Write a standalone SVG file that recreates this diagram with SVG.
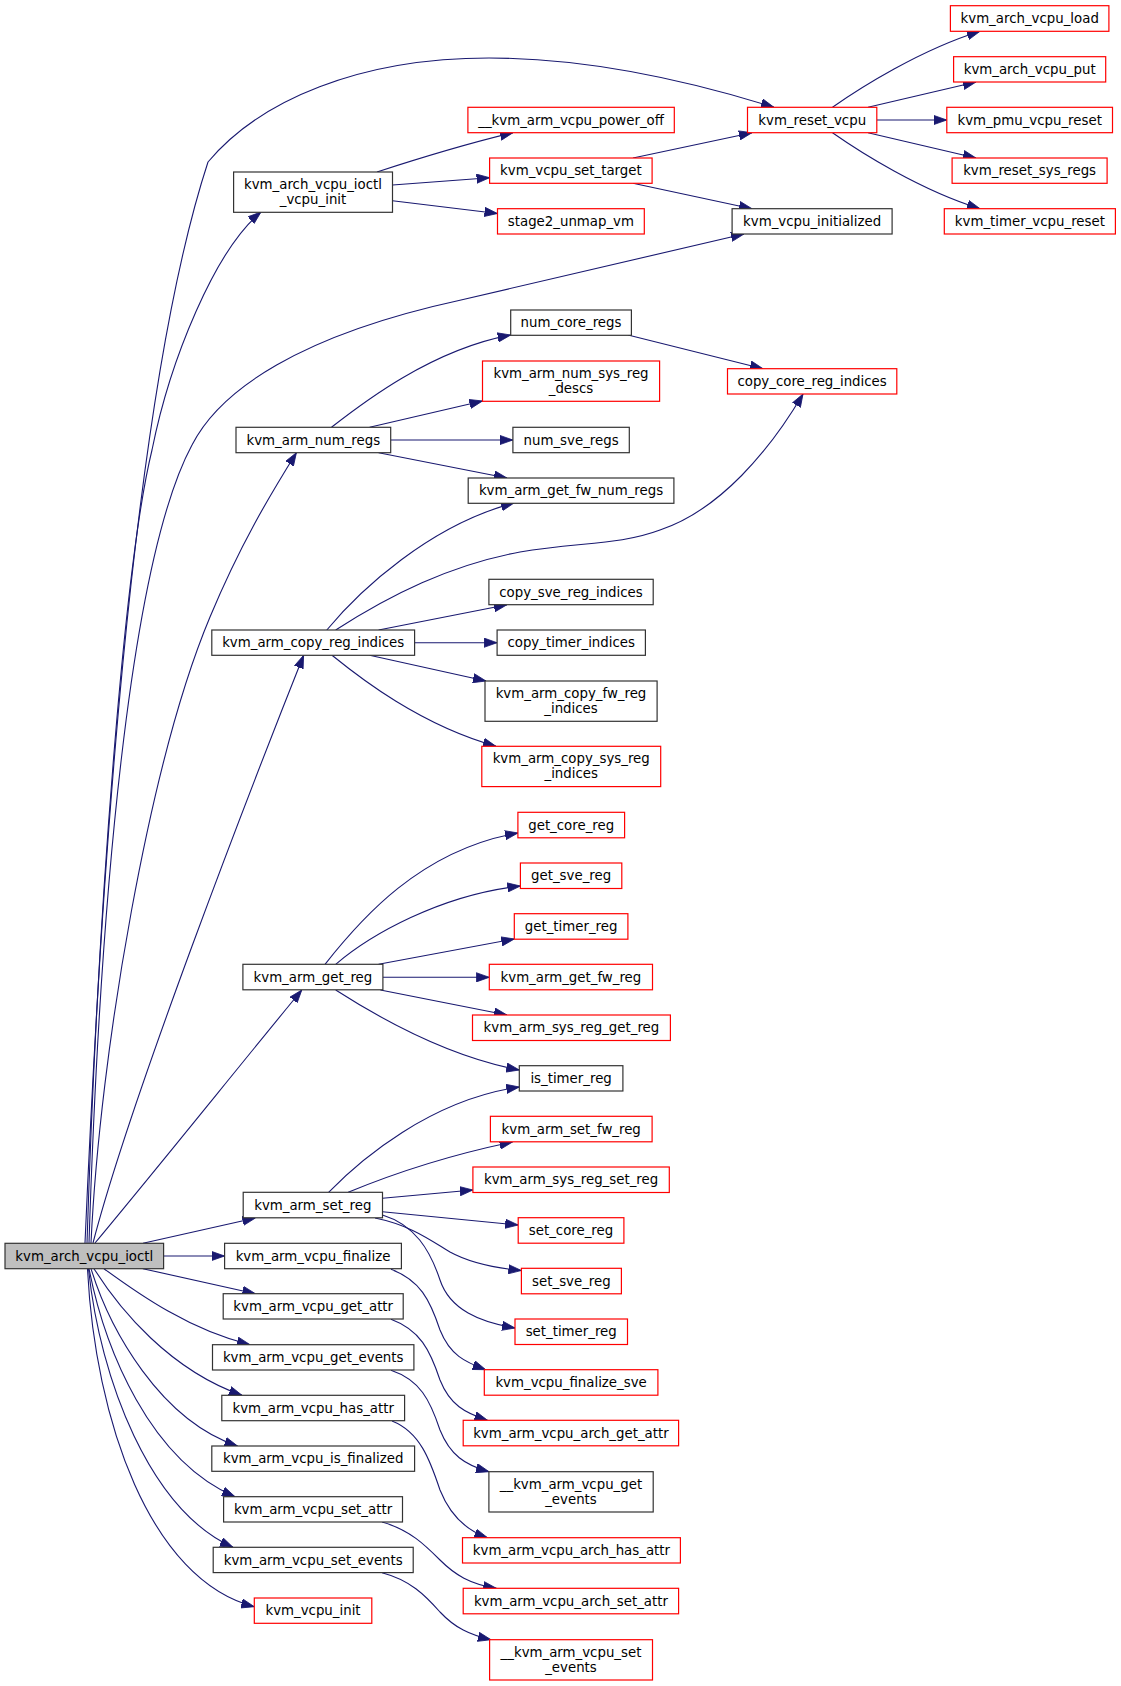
<svg xmlns="http://www.w3.org/2000/svg" width="1121" height="1686" viewBox="0 0 1121 1686">
<style>
.b{fill:#fff;stroke:#333;stroke-width:1.2}
.r{fill:#fff;stroke:#f00;stroke-width:1.2}
.m{fill:#bfbfbf;stroke:#333;stroke-width:1.2}
text{font-family:"DejaVu Sans","Liberation Sans",sans-serif;font-size:13.33px;fill:#000;text-anchor:middle}
.e path{fill:none;stroke:#191970;stroke-width:1.1;marker-end:url(#a)}
</style>
<defs>
<marker id="a" markerUnits="userSpaceOnUse" markerWidth="13" markerHeight="10" viewBox="0 0 13 10" refX="13" refY="5" orient="auto">
<polygon points="0,0.4 13,5 0,9.6" fill="#191970" stroke="#191970" stroke-width="0.8"/>
</marker>
</defs>
<rect width="1121" height="1686" fill="#fff"/>
<g class="e" id="edges">
<path d="M85,1243 C100,900 130,400 208,162 C260,100 360,58 489,58 C580,58 680,78 774,107.3"/>
<path d="M87,1243 C98,900 125,560 152,450 C170,360 215,250 261,212"/>
<path d="M89,1243 C100,900 130,560 192,445 C220,390 300,335 461,300 C520,287 620,262 744,234"/>
<path d="M91,1243 C100,1050 150,760 210,617 C240,545 270,495 296.4,452.7"/>
<path d="M93,1243 C130,1100 250,790 303.6,655.3"/>
<path d="M95,1243 C160,1165 240,1065 301.8,990"/>
<path d="M143,1243.3 L255.4,1218"/>
<path d="M163.6,1256 L224.6,1256"/>
<path d="M142.9,1268.7 L255.4,1293.7"/>
<path d="M104,1268.7 C140,1295 190,1330 250,1344.7"/>
<path d="M94,1268.7 C120,1310 170,1370 242,1395.3"/>
<path d="M91,1268.7 C110,1330 160,1420 237.5,1446"/>
<path d="M89,1268.7 C105,1350 150,1460 235,1496.7"/>
<path d="M88.5,1268.7 C100,1380 150,1510 233,1547.3"/>
<path d="M87.5,1268.7 C95,1420 150,1580 254.3,1606.7"/>
<path d="M377,172 C420,158 470,143 513,132.7"/>
<path d="M392.5,185 L489.6,177.7"/>
<path d="M392.5,200.7 L497.5,213.5"/>
<path d="M633,158 L752,132.7"/>
<path d="M633,183.3 L752,208.7"/>
<path d="M832.5,107.3 C860,88 920,50 980,31.3"/>
<path d="M868,107.3 L976,82"/>
<path d="M876.8,120 L946.8,120"/>
<path d="M868,132.7 L976,158"/>
<path d="M832.5,132.7 C860,152 920,190 980,208.7"/>
<path d="M331.4,427.3 C360,405 430,350 510.7,335"/>
<path d="M369.6,427.3 L482.5,401"/>
<path d="M390.7,440 L512.9,440"/>
<path d="M378.6,452.7 L507,478"/>
<path d="M628,335 L763,368.7"/>
<path d="M335.7,630 C390,595 450,565 520,552 C580,542 620,545 660,530 C720,510 770,450 803,394"/>
<path d="M326.8,630 C360,590 430,525 514,503"/>
<path d="M378.6,630 L507,604.7"/>
<path d="M414.6,642.7 L497.1,642.7"/>
<path d="M369.6,655.3 L486,681"/>
<path d="M332,655.3 C360,678 420,725 496,746.3"/>
<path d="M325,964.3 C360,920 420,850 518,833"/>
<path d="M335.7,964.3 C370,935 440,895 520.4,886"/>
<path d="M378.6,964.3 L514.3,939"/>
<path d="M382.9,977.3 L489.3,977.3"/>
<path d="M380.4,990 L507,1015"/>
<path d="M335.7,990 C370,1012 440,1055 519.3,1070"/>
<path d="M328.6,1192.3 C360,1160 430,1100 519.3,1087"/>
<path d="M348.2,1192.3 C390,1175 450,1155 512.5,1142"/>
<path d="M382.5,1198.3 L472.9,1190"/>
<path d="M382.5,1211.7 L518.2,1225"/>
<path d="M375,1218 C410,1225 430,1240 450,1252 C470,1263 495,1268 521.4,1270.5"/>
<path d="M382.5,1215 C415,1225 430,1250 440,1280 C450,1310 480,1322 515,1328"/>
<path d="M391,1269.3 C420,1280 430,1300 440,1330 C450,1355 465,1362 485.7,1369.7"/>
<path d="M391,1319.3 C420,1330 430,1350 440,1380 C450,1405 465,1413 487.5,1420.3"/>
<path d="M391,1370.3 C420,1380 430,1400 440,1430 C450,1455 465,1465 489,1471.7"/>
<path d="M392,1421 C420,1432 430,1460 440,1490 C450,1515 465,1530 487.5,1537.7"/>
<path d="M382,1522 C410,1530 425,1545 440,1560 C455,1575 470,1584 496.4,1588.3"/>
<path d="M382,1572.7 C410,1580 425,1595 440,1612 C455,1628 470,1635 491,1639.7"/>
</g>
<g id="n_kvm_arch_vcpu_ioctl"><rect class="m" x="5" y="1243.3" width="158.6" height="25.4"/><text x="84.3" y="1260.6">kvm_arch_vcpu_ioctl</text></g>
<g id="n_vcpu_init"><rect class="b" x="233.6" y="172" width="158.9" height="40.3"/><text x="313" y="189">kvm_arch_vcpu_ioctl</text><text x="313" y="204">_vcpu_init</text></g>
<g id="n_power_off"><rect class="r" x="467.9" y="107.3" width="206.4" height="25.4"/><text x="571.1" y="124.6">__kvm_arm_vcpu_power_off</text></g>
<g id="n_set_target"><rect class="r" x="489.6" y="158" width="162.5" height="25.3"/><text x="570.9" y="175.3">kvm_vcpu_set_target</text></g>
<g id="n_stage2"><rect class="r" x="497.5" y="208.7" width="146.8" height="25.3"/><text x="570.9" y="226">stage2_unmap_vm</text></g>
<g id="n_reset_vcpu"><rect class="r" x="747.5" y="107.3" width="129.3" height="25.4"/><text x="812.2" y="124.6">kvm_reset_vcpu</text></g>
<g id="n_initialized"><rect class="b" x="732.1" y="208.7" width="160" height="25.3"/><text x="812.1" y="226">kvm_vcpu_initialized</text></g>
<g id="n_load"><rect class="r" x="950.4" y="5.7" width="158.5" height="25.6"/><text x="1029.7" y="23">kvm_arch_vcpu_load</text></g>
<g id="n_put"><rect class="r" x="953.6" y="56.7" width="152.1" height="25.3"/><text x="1029.7" y="74">kvm_arch_vcpu_put</text></g>
<g id="n_pmu"><rect class="r" x="946.8" y="107.3" width="165.7" height="25.4"/><text x="1029.7" y="124.6">kvm_pmu_vcpu_reset</text></g>
<g id="n_sysregs"><rect class="r" x="952.1" y="158" width="155" height="25.3"/><text x="1029.6" y="175.3">kvm_reset_sys_regs</text></g>
<g id="n_timer_reset"><rect class="r" x="944.3" y="208.7" width="171.1" height="25.3"/><text x="1029.9" y="226">kvm_timer_vcpu_reset</text></g>
<g id="n_num_core"><rect class="b" x="510.7" y="310" width="120.7" height="25.3"/><text x="571" y="327.3">num_core_regs</text></g>
<g id="n_sys_descs"><rect class="r" x="482.5" y="361" width="177.1" height="40.3"/><text x="571" y="378">kvm_arm_num_sys_reg</text><text x="571" y="393">_descs</text></g>
<g id="n_copy_core"><rect class="r" x="727.5" y="368.7" width="169.3" height="25.3"/><text x="812.1" y="386">copy_core_reg_indices</text></g>
<g id="n_num_regs"><rect class="b" x="236" y="427.3" width="154.7" height="25.4"/><text x="313.3" y="444.6">kvm_arm_num_regs</text></g>
<g id="n_num_sve"><rect class="b" x="512.9" y="427.3" width="116.4" height="25.4"/><text x="571.1" y="444.6">num_sve_regs</text></g>
<g id="n_fw_num"><rect class="b" x="468.2" y="478" width="205.7" height="25.3"/><text x="571" y="495.3">kvm_arm_get_fw_num_regs</text></g>
<g id="n_copy_sve"><rect class="b" x="488.9" y="579.3" width="164.3" height="25.4"/><text x="571" y="596.6">copy_sve_reg_indices</text></g>
<g id="n_copy_reg"><rect class="b" x="211.8" y="630" width="202.8" height="25.3"/><text x="313.2" y="647.3">kvm_arm_copy_reg_indices</text></g>
<g id="n_copy_timer"><rect class="b" x="497.1" y="630" width="148.3" height="25.3"/><text x="571.2" y="647.3">copy_timer_indices</text></g>
<g id="n_copy_fw"><rect class="b" x="485" y="681" width="172.1" height="40.3"/><text x="571" y="698">kvm_arm_copy_fw_reg</text><text x="571" y="713">_indices</text></g>
<g id="n_copy_sys"><rect class="r" x="481.8" y="746.3" width="178.9" height="40.3"/><text x="571.2" y="763.3">kvm_arm_copy_sys_reg</text><text x="571.2" y="778.3">_indices</text></g>
<g id="n_get_core"><rect class="r" x="517.9" y="812.3" width="106.7" height="25.5"/><text x="571.2" y="829.6">get_core_reg</text></g>
<g id="n_get_sve"><rect class="r" x="520.4" y="863" width="101.4" height="25.5"/><text x="571.1" y="880.3">get_sve_reg</text></g>
<g id="n_get_timer"><rect class="r" x="514.3" y="913.7" width="113.6" height="25.5"/><text x="571.1" y="931">get_timer_reg</text></g>
<g id="n_get_reg"><rect class="b" x="242.9" y="964.3" width="140" height="25.5"/><text x="312.9" y="981.6">kvm_arm_get_reg</text></g>
<g id="n_get_fw"><rect class="r" x="489.3" y="964.3" width="163.2" height="25.5"/><text x="570.9" y="981.6">kvm_arm_get_fw_reg</text></g>
<g id="n_sys_get"><rect class="r" x="472.5" y="1015" width="197.9" height="25.5"/><text x="571.4" y="1032.3">kvm_arm_sys_reg_get_reg</text></g>
<g id="n_is_timer"><rect class="b" x="519.3" y="1065.7" width="103.6" height="25.3"/><text x="571.1" y="1083">is_timer_reg</text></g>
<g id="n_set_fw"><rect class="r" x="490.4" y="1116.3" width="161.7" height="25.5"/><text x="571.2" y="1133.6">kvm_arm_set_fw_reg</text></g>
<g id="n_sys_set"><rect class="r" x="472.9" y="1167" width="196.4" height="25.5"/><text x="571.1" y="1184.3">kvm_arm_sys_reg_set_reg</text></g>
<g id="n_set_reg"><rect class="b" x="243.2" y="1192.3" width="139.3" height="25.5"/><text x="312.8" y="1209.6">kvm_arm_set_reg</text></g>
<g id="n_set_core"><rect class="r" x="518.2" y="1217.7" width="105.7" height="25.5"/><text x="571" y="1235">set_core_reg</text></g>
<g id="n_finalize"><rect class="b" x="224.6" y="1243.3" width="176.8" height="25.4"/><text x="313" y="1260.6">kvm_arm_vcpu_finalize</text></g>
<g id="n_set_sve"><rect class="r" x="521.4" y="1268.3" width="100" height="25.5"/><text x="571.4" y="1285.6">set_sve_reg</text></g>
<g id="n_get_attr"><rect class="b" x="223.2" y="1293.7" width="180" height="25.3"/><text x="313.2" y="1311">kvm_arm_vcpu_get_attr</text></g>
<g id="n_set_timer"><rect class="r" x="515" y="1319" width="112.5" height="25.5"/><text x="571.2" y="1336.3">set_timer_reg</text></g>
<g id="n_get_events"><rect class="b" x="212.5" y="1344.7" width="201.4" height="25.3"/><text x="313.2" y="1362">kvm_arm_vcpu_get_events</text></g>
<g id="n_finalize_sve"><rect class="r" x="484.3" y="1369.7" width="173.6" height="25.5"/><text x="571.1" y="1387">kvm_vcpu_finalize_sve</text></g>
<g id="n_has_attr"><rect class="b" x="221.8" y="1395.3" width="182.8" height="25.4"/><text x="313.2" y="1412.6">kvm_arm_vcpu_has_attr</text></g>
<g id="n_arch_get"><rect class="r" x="463.2" y="1420.3" width="215.4" height="25.5"/><text x="570.9" y="1437.6">kvm_arm_vcpu_arch_get_attr</text></g>
<g id="n_is_finalized"><rect class="b" x="211.8" y="1446" width="202.8" height="25.3"/><text x="313.2" y="1463.3">kvm_arm_vcpu_is_finalized</text></g>
<g id="n___get_events"><rect class="b" x="488.9" y="1471.7" width="164.3" height="40.3"/><text x="571" y="1488.7">__kvm_arm_vcpu_get</text><text x="571" y="1503.7">_events</text></g>
<g id="n_set_attr"><rect class="b" x="223.6" y="1496.7" width="178.9" height="25.3"/><text x="313" y="1514">kvm_arm_vcpu_set_attr</text></g>
<g id="n_arch_has"><rect class="r" x="462.5" y="1537.7" width="217.9" height="25.3"/><text x="571.4" y="1555">kvm_arm_vcpu_arch_has_attr</text></g>
<g id="n_set_events"><rect class="b" x="213.2" y="1547.3" width="200" height="25.3"/><text x="313.2" y="1564.6">kvm_arm_vcpu_set_events</text></g>
<g id="n_arch_set"><rect class="r" x="463.2" y="1588.3" width="215.4" height="25.5"/><text x="570.9" y="1605.6">kvm_arm_vcpu_arch_set_attr</text></g>
<g id="n_vcpu_init2"><rect class="r" x="254.3" y="1598" width="117.5" height="25.3"/><text x="313" y="1615.3">kvm_vcpu_init</text></g>
<g id="n___set_events"><rect class="r" x="489.6" y="1639.7" width="162.9" height="40.3"/><text x="571" y="1656.7">__kvm_arm_vcpu_set</text><text x="571" y="1671.7">_events</text></g>
</svg>
